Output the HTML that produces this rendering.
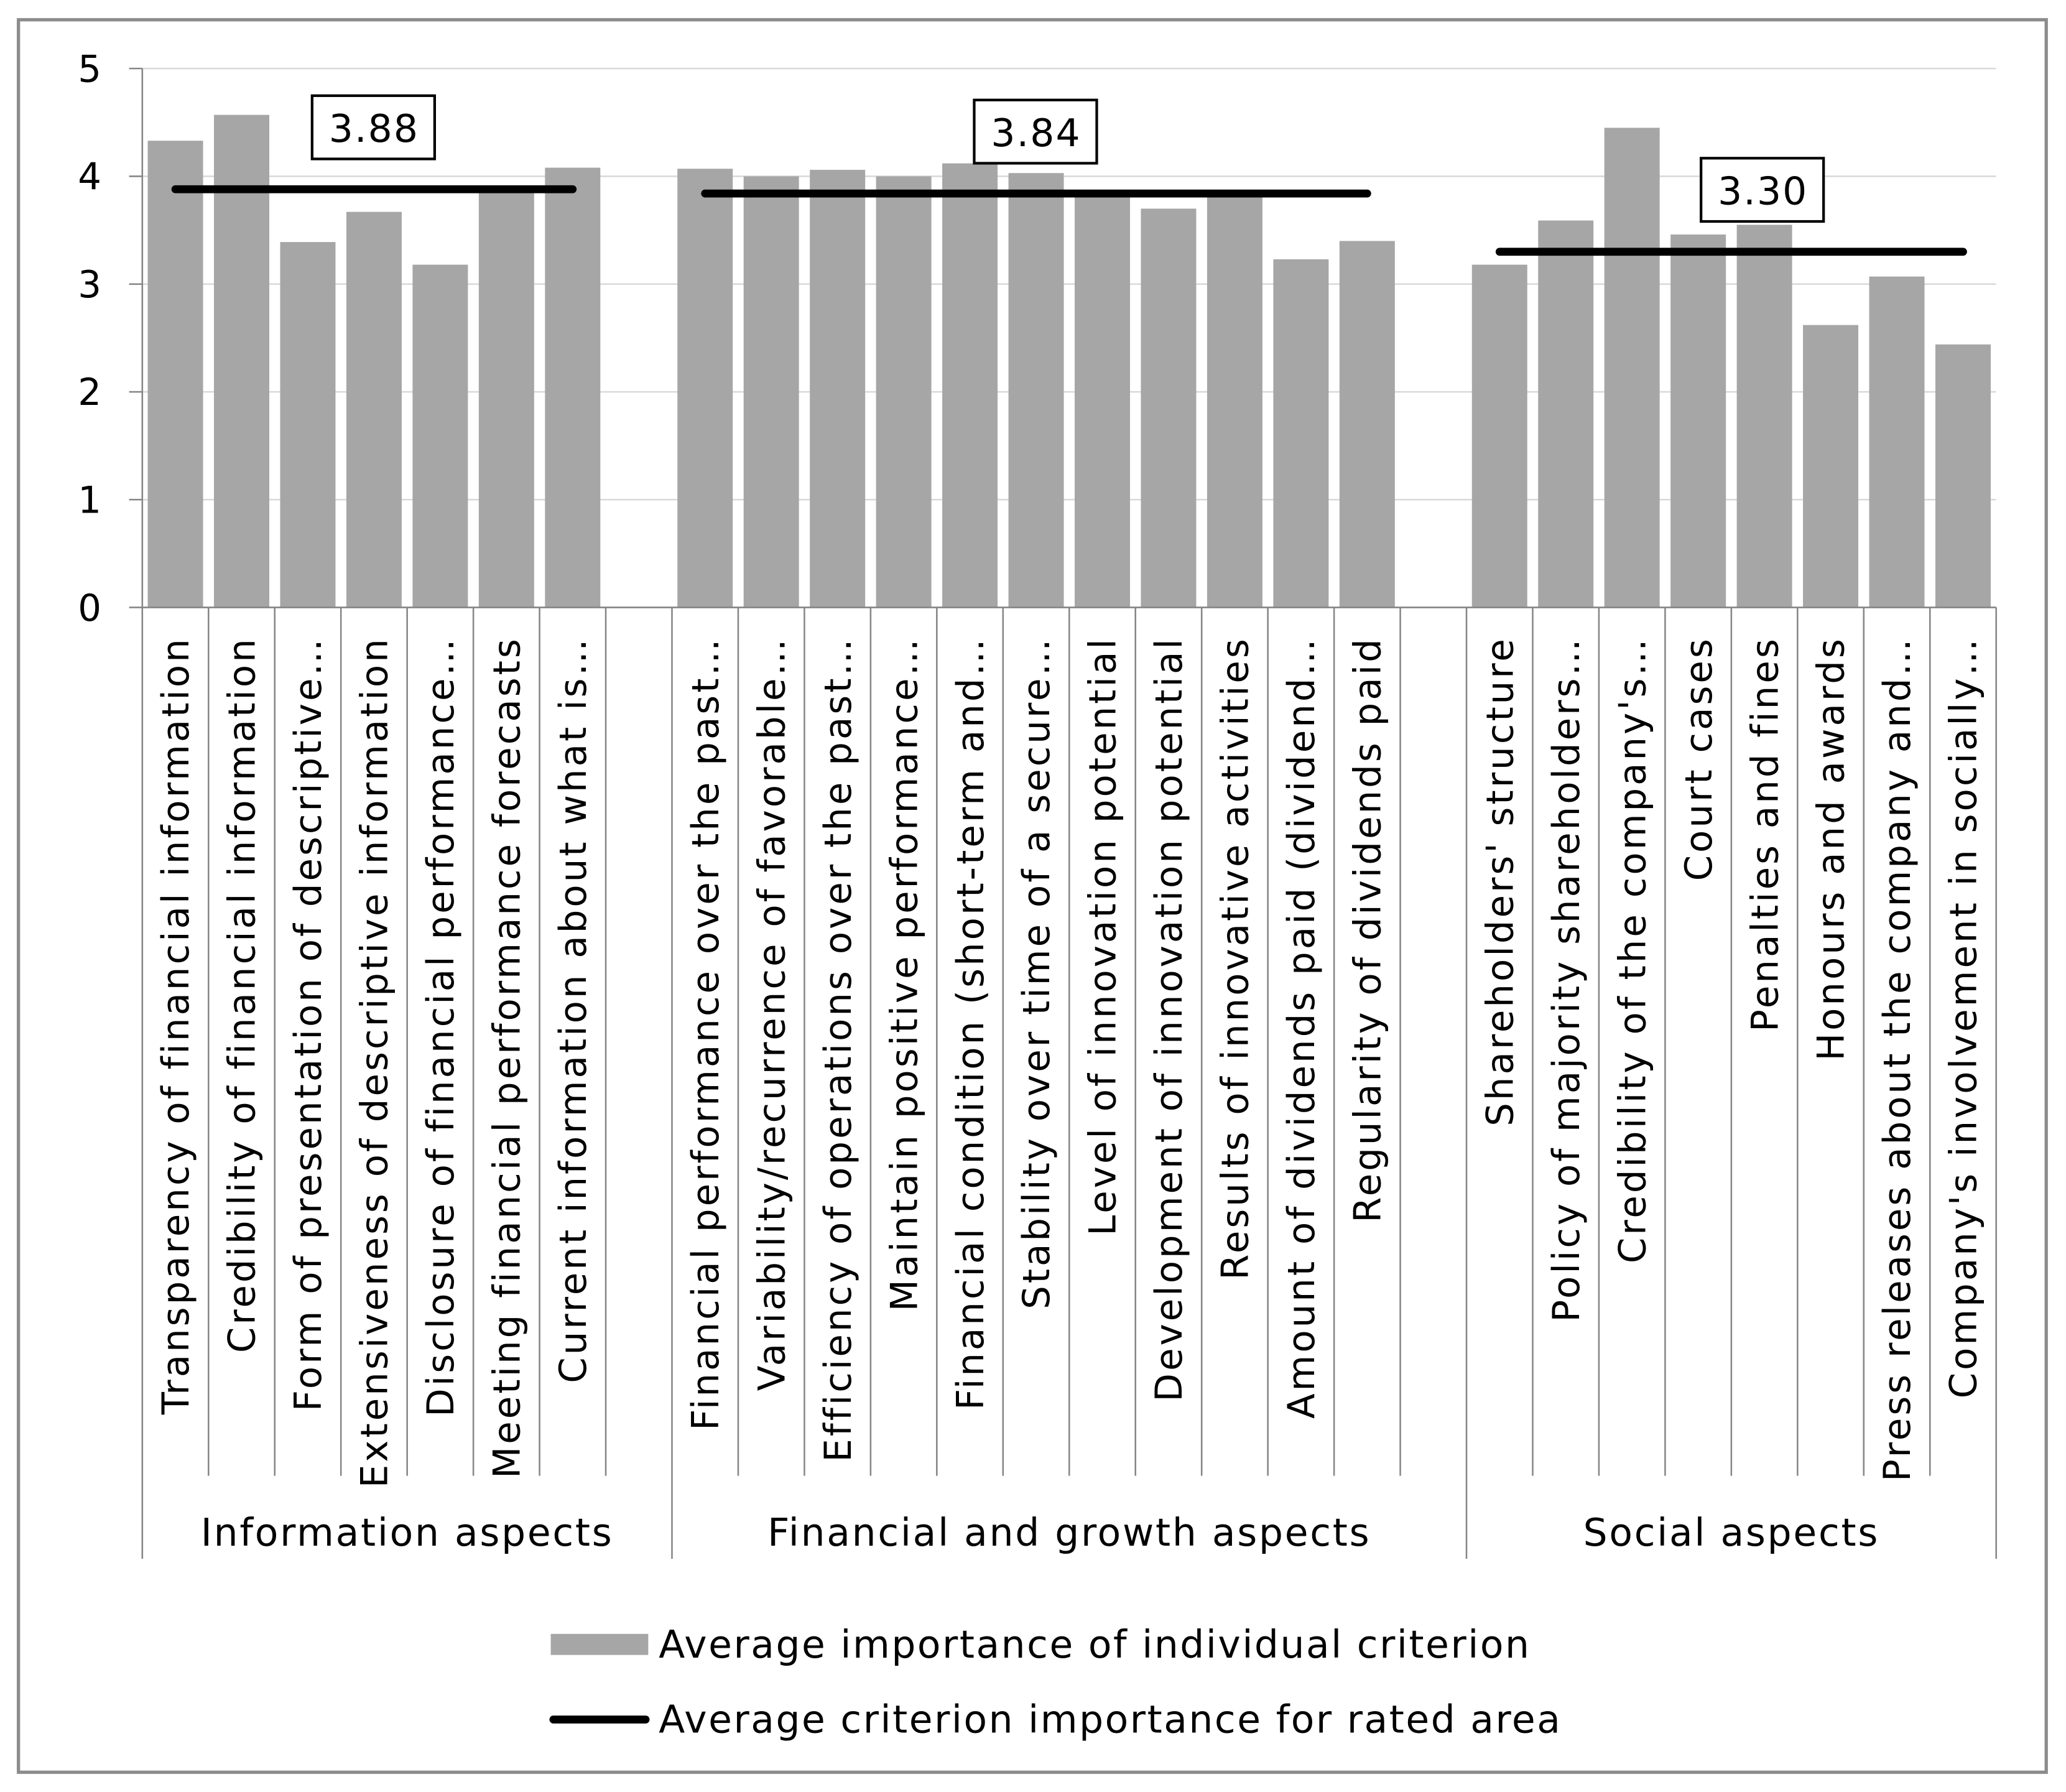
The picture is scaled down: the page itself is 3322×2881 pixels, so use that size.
<!DOCTYPE html>
<html><head><meta charset="utf-8">
<style>
html,body{margin:0;padding:0;background:#fff;}
svg{display:block;font-family:"DejaVu Sans","Liberation Sans",sans-serif;}
</style></head>
<body>
<svg id="chart" width="3322" height="2881" viewBox="0 0 1568 1360" preserveAspectRatio="none" xmlns="http://www.w3.org/2000/svg">
<rect x="14" y="15" width="1539" height="1330" fill="#fff" stroke="#8c8c8c" stroke-width="2.5"/>
<g id="grid"></g><g id="bars"></g><g id="axes"></g><g id="labels"></g><g id="avg"></g>
<g>
<rect x="418" y="1240" width="74" height="16" fill="#a6a6a6"/>
<text x="500" y="1258" font-size="29" letter-spacing="1.2">Average importance of individual criterion</text>
<line x1="420" y1="1305" x2="490" y2="1305" stroke="#000" stroke-width="6" stroke-linecap="round"/>
<text x="500" y="1315" font-size="29" letter-spacing="1.2">Average criterion importance for rated area</text>
</g>
</svg>
<script>
const groups = ["Information aspects","Financial and growth aspects","Social aspects"];
const infoLabels = ["Transparency of financial information","Credibility of financial information","Form of presentation of descriptive…","Extensiveness of descriptive information","Disclosure of financial performance…","Meeting financial performance forecasts","Current information about what is…"];
const infoValues = [4.33,4.57,3.39,3.67,3.18,3.86,4.08];
const finLabels = ["Financial performance over the past…","Variability/recurrence of favorable…","Efficiency of operations over the past…","Maintain positive performance…","Financial condition (short-term and…","Stability over time of a secure…","Level of innovation potential","Development of innovation potential","Results of innovative activities","Amount of dividends paid (dividend…","Regularity of dividends paid"];
const finValues = [4.07,4.0,4.06,4.0,4.12,4.03,3.82,3.70,3.84,3.23,3.40];
const socLabels = ["Shareholders' structure","Policy of majority shareholders…","Credibility of the company's…","Court cases","Penalties and fines","Honours and awards","Press releases about the company and…","Company's involvement in socially…"];
const socValues = [3.18,3.59,4.45,3.46,3.55,2.62,3.07,2.44];
const groupAverages = [3.88,3.84,3.30];
const avgLabels = ["3.88","3.84","3.30"];
const yTicks = [0,1,2,3,4,5];

const NS="http://www.w3.org/2000/svg";
const X0=108, X1=1515, Y0=461, Y5=52;
const boxShift=[0,0,24];
const allLabels=[infoLabels,finLabels,socLabels], allValues=[infoValues,finValues,socValues];
const nSlots = infoValues.length+finValues.length+socValues.length+2;
const slotW=(X1-X0)/nSlots;
const y=v=>Y0-(Y0-Y5)*v/5;
const xc=s=>X0+(s+0.5)*slotW;
function mk(tag,attrs,parent){const e=document.createElementNS(NS,tag);for(const k in attrs)e.setAttribute(k,attrs[k]);parent.appendChild(e);return e;}
const G=id=>document.getElementById(id);

yTicks.forEach(t=>{
  const gl=mk('line',{x1:X0,x2:X1,y1:y(t),y2:y(t),stroke:'#d9d9d9','stroke-width':1.2},G('grid'));
  
  
  const tk=mk('line',{x1:X0-10,x2:X0,y1:y(t),y2:y(t),stroke:'#868686','stroke-width':1.2},G('axes'));
  
  
  const tl=mk('text',{x:68,y:y(t)+10,'font-size':28,'text-anchor':'middle'},G('axes'));
  tl.textContent=t;
  
  
});
const ya=mk('line',{x1:X0,x2:X0,y1:Y5,y2:Y0,stroke:'#868686','stroke-width':1.2},G('axes'));


const xa=mk('line',{x1:X0,x2:X1,y1:Y0,y2:Y0,stroke:'#868686','stroke-width':1.2},G('axes'));



for(let k=0;k<=nSlots;k++){
  const xx=X0+k*slotW;
  const isGroup=(k===0||k===infoValues.length+1||k===infoValues.length+finValues.length+2||k===nSlots);
  const l=mk('line',{x1:xx,x2:xx,y1:Y0,y2:isGroup?1183:1120,stroke:'#868686','stroke-width':1.2},G('axes'));
  
  
}

let slot=0;
allValues.forEach((vals,gi)=>{
  const start=slot;
  vals.forEach((v,i)=>{
    const cx=xc(slot);
    const b=mk('rect',{x:cx-21,y:y(v),width:42,height:Y0-y(v),fill:'#a6a6a6'},G('bars'));
    
    
    const t=mk('text',{x:0,y:0,'font-size':28,'letter-spacing':1.9,'text-anchor':'end',transform:`translate(${cx+10},${Y0+22}) rotate(-90)`},G('labels'));
    t.textContent=allLabels[gi][i];
    
    
    slot++;
  });
  const end=slot-1;
  const a=groupAverages[gi];
  const ln=mk('line',{x1:xc(start),x2:xc(end),y1:y(a),y2:y(a),stroke:'#000','stroke-width':6,'stroke-linecap':'round'},G('avg'));
  
  
  const mid=(xc(start)+xc(end))/2+boxShift[gi];
  const bx=mk('rect',{x:mid-47,y:y(a)-71,width:93,height:48,fill:'#fff',stroke:'#000','stroke-width':2},G('avg'));
  
  
  const bt=mk('text',{x:mid,y:y(a)-36,'font-size':29,'text-anchor':'middle','letter-spacing':1},G('avg'));
  bt.textContent=avgLabels[gi];
  
  
  const gEnd = gi===allValues.length-1 ? end+1 : end+2;
  const gx=(X0+start*slotW+X0+gEnd*slotW)/2;
  const gt=mk('text',{x:gx,y:1173,'font-size':29,'text-anchor':'middle','letter-spacing':1.3},G('labels'));
  gt.textContent=groups[gi];
  
  
  slot++;
});
</script>
</body></html>
